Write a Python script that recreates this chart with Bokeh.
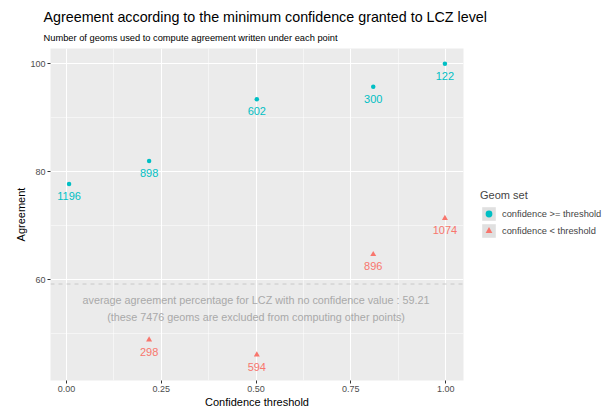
from bokeh.plotting import figure
from bokeh.models import (ColumnDataSource, Range1d, FixedTicker, Span, Legend,
                          LegendItem, Title)
from bokeh.core.properties import value
from bokeh.embed import file_html
from bokeh.resources import INLINE

# ---- data ----
thr_above = [0.007, 0.218, 0.502, 0.809, 0.998]
agr_above = [77.7, 82.0, 93.4, 95.7, 100.0]
n_above = ["1196", "898", "602", "300", "122"]

thr_below = [0.218, 0.502, 0.809, 0.998]
agr_below = [48.9, 46.1, 64.7, 71.4]
n_below = ["298", "594", "896", "1074"]

no_conf_avg = 59.21
no_conf_n = 7476
x_ticks = [0.0, 0.25, 0.5, 0.75, 1.0]
x_tick_labels = ["0.00", "0.25", "0.50", "0.75", "1.00"]
y_ticks = [40, 60, 80, 100]

BLUE = "#00BFC4"
RED = "#F8766D"
FONT = "Liberation Sans"

p = figure(frame_width=413, frame_height=332, output_backend="svg",
           toolbar_location=None, x_range=Range1d(-0.042, 1.047),
           y_range=Range1d(41.35, 102.8),
           min_border_left=50, min_border_top=48, min_border_bottom=30,
           min_border_right=142)
p.background_fill_color = "#EBEBEB"
p.border_fill_color = "white"
p.outline_line_color = None

# titles (first added is nearest the plot)
p.add_layout(Title(text="Number of geoms used to compute agreement written under each point",
                   text_font=FONT, text_font_size="9.3px", text_font_style="normal",
                   text_color="black", align="left", offset=-7, standoff=12), "above")
p.add_layout(Title(text="Agreement according to the minimum confidence granted to LCZ level",
                   text_font=FONT, text_font_size="14.3px", text_font_style="normal",
                   text_color="black", align="left", offset=-7, standoff=0), "above")

# axes
p.xaxis.ticker = FixedTicker(ticks=x_ticks, minor_ticks=[0.125, 0.375, 0.625, 0.875])
p.xaxis.major_label_overrides = {t: l for t, l in zip(x_ticks, x_tick_labels)}
p.yaxis.ticker = FixedTicker(ticks=y_ticks, minor_ticks=[50, 70, 90])
for ax in (p.xaxis, p.yaxis):
    ax.axis_line_color = None
    ax.major_tick_line_color = "#333333"
    ax.major_tick_out = 3
    ax.major_tick_in = 0
    ax.minor_tick_line_color = None
    ax.major_label_text_font = FONT
    ax.major_label_text_font_size = "9px"
    ax.major_label_text_color = "#4D4D4D"
    ax.major_label_standoff = 1
    ax.axis_label_text_font = FONT
    ax.axis_label_text_font_size = "11px"
    ax.axis_label_text_font_style = "normal"
    ax.axis_label_text_color = "black"
    ax.axis_label_standoff = 1
p.xaxis.axis_label = "Confidence threshold"
p.yaxis.axis_label = "Agreement"
p.yaxis.axis_label_standoff = 0

for g in (p.xgrid, p.ygrid):
    g.grid_line_color = "white"
    g.grid_line_width = 1.1
    g.minor_grid_line_color = "white"
    g.minor_grid_line_width = 0.5

# reference line
p.add_layout(Span(location=no_conf_avg, dimension="width", line_color="#C8C8C8",
                  line_width=1, line_dash="4 4"))

src_a = ColumnDataSource(dict(x=thr_above, y=agr_above, n=n_above))
src_b = ColumnDataSource(dict(x=thr_below, y=agr_below, n=n_below))

ra = p.scatter("x", "y", source=src_a, marker="circle", size=4.5,
               fill_color=BLUE, line_color=None)
rb = p.scatter("x", "y", source=src_b, marker="triangle", size=6,
               fill_color=RED, line_color=None)

p.text("x", "y", text="n", source=src_a, text_align="center",
       text_baseline="middle", y_offset=12, text_color=BLUE,
       text_font=value(FONT), text_font_size="11px")
p.text("x", "y", text="n", source=src_b, text_align="center",
       text_baseline="middle", y_offset=12, text_color=RED,
       text_font=value(FONT), text_font_size="11px")

note = ("average agreement percentage for LCZ with no confidence value : %.2f\n"
        "(these %d geoms are excluded from computing other points)" % (no_conf_avg, no_conf_n))
p.text(x=[0.5], y=[no_conf_avg], text=[note], text_align="center",
       text_baseline="top", y_offset=10, text_color="#A9A9A9",
       text_font=value(FONT), text_font_size="10.8px", text_line_height=1.45)

# legend key backgrounds (drawn only inside the legend)
bg1 = p.block(x=[x_ticks[0]], y=[y_ticks[0]], width=0, height=0,
              fill_color="#E0E0E0", line_color=None)
bg2 = p.block(x=[x_ticks[0]], y=[y_ticks[0]], width=0, height=0,
              fill_color="#E0E0E0", line_color=None)

legend = Legend(items=[
    LegendItem(label="confidence >= threshold", renderers=[bg1, ra]),
    LegendItem(label="confidence < threshold", renderers=[bg2, rb]),
], location="left", orientation="vertical")
legend.title = "Geom set"
legend.title_text_font = FONT
legend.title_text_font_size = "11px"
legend.title_text_font_style = "normal"
legend.title_standoff = 4
legend.label_text_font = FONT
legend.label_text_font_size = "9.3px"
legend.label_standoff = 5
legend.glyph_width = 17
legend.glyph_height = 17
legend.spacing = 0
legend.padding = 0
legend.margin = 17
legend.border_line_color = None
legend.background_fill_color = None
p.add_layout(legend, "right")

open("out.html", "w").write(file_html(p, INLINE))
